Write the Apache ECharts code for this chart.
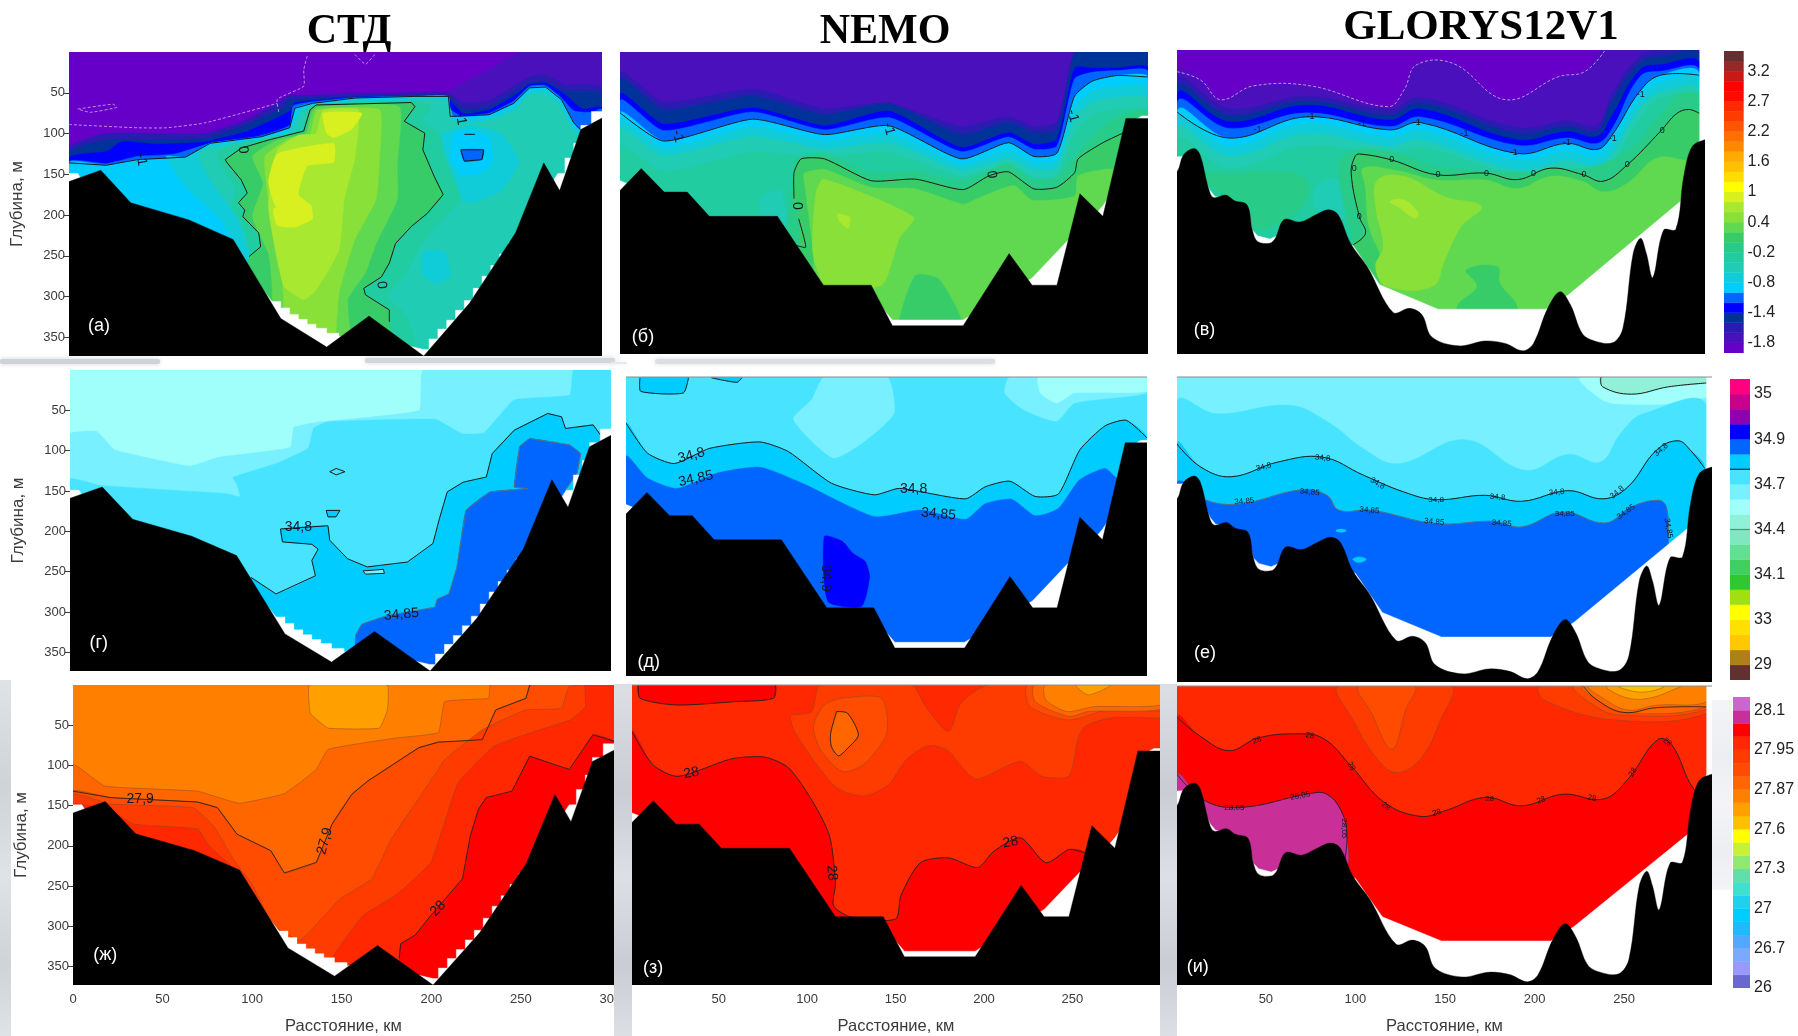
<!DOCTYPE html>
<html><head><meta charset="utf-8">
<style>html,body{margin:0;padding:0;background:#fff}#c{width:1798px;height:1036px}</style>
<script src="https://cdn.jsdelivr.net/npm/echarts@6/dist/echarts.min.js"></script>
</head><body><div id="c"></div>
<script>
/* ---------- colour scales (bottom to top of each colour bar) ---------- */
const tempColors=['#6600c8','#4a10bc','#2a1cb0','#003399','#0000ff','#0066ff','#00ccff','#10ccd8','#20ccb4','#20cca0','#28cc88','#38cc68','#60d850','#88e038','#a8e830','#d8f020','#ffff00','#ffdd00','#ffc000','#ffaa00','#ff8800','#ff7000','#ff5500','#ff3c00','#ff2a00','#ff0a00','#ff0000','#c81818','#962828','#63302f'];
const salColors=['#633030','#b08018','#ffc800','#ffe000','#ffff00','#a0e010','#30c830','#40d060','#60e090','#80e8c0','#90f0d8','#a0fffa','#78f0ff','#48e4ff','#00ccff','#0066ff','#0000ff','#9000b0','#c8008c','#ff0080'];
const rhoColors=['#6868d0','#9898ff','#7da8ff','#50a8ff','#20b8ff','#00ccff','#20d0f0','#40e0d0','#60e0a8','#90e870','#c8f038','#ffff00','#ffc000','#ffa000','#ff8000','#ff6600','#ff4c00','#ff3c00','#ff2800','#ff0000','#c83098','#cc66cc'];
const tempBarLabels=['-1.8','-1.4','-0.8','-0.2','0.4','1','1.6','2.2','2.7','3.2'];
const tempBarAt=[1,4,7,10,13,16,19,22,25,28];
const salBarLabels=['29','33','34.1','34.4','34.7','34.9','35'];
const salBarAt=[1,4,7,10,13,16,19];
const rhoBarLabels=['26','26.7','27','27.3','27.6','27.87','27.95','28.1'];
const rhoBarAt=[0,3,6,9,12,15,18,21];
const depthTicks=[50,100,150,200,250,300,350];
const distTicks=[0,50,100,150,200,250,300];
const columnTitles=['СТД','NEMO','GLORYS12V1'];

/* ---------- sea floor and lower limit of the data (km, m) ---------- */
const terrainCTD=[[0,159],[18,145],[35,185],[68,206],[93,230],[120,327],[146,362],[170,324],[201,373],[227,308],[253,222],[269,136],[278,170],[290,95],[302,81]];
const floorCTD=[[0,149],[5,149],[8,160],[30,190],[90,235],[115,306],[120,306],[120,314],[125,314],[125,322],[130,322],[130,328],[135,328],[135,334],[140,334],[140,339],[146,339],[146,345],[153,345],[153,349],[170,349],[201,365],[204,365],[204,352],[209,352],[209,340],[214,340],[214,329],[219,329],[219,317],[224,317],[224,305],[229,305],[229,290],[234,290],[234,275],[239,275],[239,262],[244,262],[244,248],[249,248],[249,234],[254,234],[254,222],[262,200],[277,149],[281,149],[281,130],[286,130],[286,112],[290,112],[290,90],[296,90],[296,73],[302,73]];
const terrainNEMO=[[1,171],[13,144],[26,173],[39,173],[51.5,203],[90,203],[116,288],[143,288],[155,338],[195,338],[221,249],[234,288],[248,288],[261,175],[274,203],[287,82],[299.5,82]];
const floorNEMO=[[1,159],[8,165],[30,200],[90,230],[116,292],[143,300],[155,331],[195,331],[234,279],[254,233],[262,220],[274,190],[280,170],[287,90],[296,79],[299.5,79]];
const terrainGLORYS=[[0.4,149],[4,129],[10,121],[13.5,129],[18,168],[21,181],[28,178],[33,185],[40,190],[43,221],[46,235],[53,237],[56,231],[61,208],[70,211],[79,202],[86,196],[91.5,202],[98.5,237],[108,266],[122.6,322],[132,317],[139,325],[144.5,352],[159.5,363],[174.5,357],[186,360],[196,369],[202,360],[210,317],[217,296.5],[223,313],[229.6,348],[236.5,357],[247,359],[252.6,341],[258.4,249.5],[262.6,231],[265.8,249.5],[269.5,279],[275.6,221],[282.5,220],[287,155],[291.7,118.6],[299,110]];
const floorGLORYS=[[0.4,131],[10,130],[19,172],[22,180],[30,182],[40,195],[43,221],[46,228],[53,232],[57,228],[70,220],[100,240],[115,288],[148,318],[209,318],[222,300],[286,184],[289,150],[296,110],[296,0],[299,0]];

/* ---------- builders for the filled regions ---------- */
const BOTTOM=400;
const zip=(xs,ds)=>xs.map((x,i)=>[x,ds[i]]);
const whole=c=>({c,pts:[[-5,-5],[310,-5],[310,BOTTOM],[-5,BOTTOM]],flat:true});
const below=(c,pts)=>({c,pts:[...pts,[pts[pts.length-1][0],BOTTOM],[pts[0][0],BOTTOM]]});
const patch=(c,pts)=>({c,pts});

/* ---------- (а) temperature, CTD ---------- */
const a_m1=[[0,136],[21,139],[39,132],[66,129],[80,112],[109,104],[125,93],[128,69],[138,63],[162,56.5],[196,54.5],[215,54.5],[216,79],[238,77],[252,63],[261,44],[270,43],[279,58.5],[286,87],[291,98],[302,95]];
const a_zero=[[102,251],[108.6,239],[107.5,222],[98.5,202],[99.6,194],[96,185],[101,173],[97.6,157],[89.6,136],[88.5,132],[97.6,118],[113,108],[133,97],[136.6,71],[140,65],[194,62],[196,67],[190,85],[201.6,99.5],[200.5,120],[207,153],[212,175],[203,198],[194,214],[185,235],[181.5,259],[177,276],[167,290],[168,298],[181.5,316.5],[181.5,331]];
const a_fill=[
 whole(0),
 below(1,[[215,52],[240,20],[255,0],[302,0]]),
 below(2,[[0,118],[21,100],[50,100],[77,100],[100,84],[120,60],[124,54],[214,50],[223,62],[238,60],[261,30],[270,28],[281,40],[302,44]]),
 below(3,[[0,124],[21,108],[50,108],[77,106],[100,90],[122,67],[124,59],[162,55],[214,53],[223,70],[238,68],[261,38],[270,36],[281,48],[302,52]]),
 below(4,[[0,130],[21,122],[30,110],[50,113],[77,110],[100,98],[125,73],[128,62],[162,55.5],[214,54],[217,62],[224,76],[238,71],[252,54],[261,40],[270,38],[281,52],[291,70],[302,68]]),
 below(5,[[0,135],[21,137],[39,128],[60,125],[80,112],[108,103],[125,90],[127,66],[138,61],[162,56],[215,54.5],[216,70],[222,78],[238,75],[252,60],[261,42],[270,41],[279,56],[286,72],[296,74],[302,70]]),
 below(6,a_m1),
 patch(7,[[55,128],[66,129],[80,114],[109,106],[125,95],[130,71],[138,65],[162,58.5],[196,56.5],[214,56.5],[216,82],[238,80],[252,66],[261,47],[270,46],[279,61],[286,90],[291,100],[302,98],[302,400],[110,400],[95,240],[86,206],[66,165]]),
 patch(8,[[73,125],[80,118],[109,108],[125,99],[132,74],[140,69],[162,62],[214,60],[219,86],[238,84],[253,71],[261,52],[270,51],[278,66],[285,95],[291,103],[302,102],[302,400],[115,400],[103,250],[95,202],[80,157]]),
 patch(7,[[201,245],[213,245],[216,275],[208,285],[200,272]]),
 patch(7,[[212,100],[228,90],[245,100],[255,135],[245,170],[228,185],[212,170],[205,135]]),
 patch(6,[[218,100],[228,95],[238,105],[240,135],[232,150],[222,150],[216,130]]),
 patch(5,[[222,120],[235,120],[234,132],[224,134]]),
 patch(9,[[84,125],[92,115],[110,106],[133,95],[134,70],[140,64],[196,60],[205,66],[200,85],[210,100],[212,120],[218,155],[222,180],[212,205],[203,225],[196,250],[190,275],[180,300],[190,320],[195,345],[195,400],[110,400],[103,250],[98,210],[92,190],[95,170],[88,145]]),
 patch(11,[...a_zero,[181.5,400],[102,400]]),
 patch(12,[[104,128],[118,108],[134,100],[138,72],[142,67],[187,67],[186,140],[186,181],[174,235],[168,271],[158,304],[160,400],[118,400],[115,284],[113,247],[104,202],[110,161]]),
 patch(13,[[111,128],[125,106],[136,102],[140,72],[144,70],[176,71],[176,130],[174,181],[162,230],[153,296],[148,400],[125,400],[121,284],[118,247],[113,181]]),
 patch(14,[[118,120],[130,102],[140,100],[144,71],[164,71],[162,130],[156,181],[153,243],[140,292],[133,304],[122,288],[118,255],[113,190]]),
 patch(15,[[144,75],[166,75],[160,95],[150,105],[146,100]]),
 patch(15,[[118,125],[150,112],[150,135],[135,140],[130,175],[138,190],[118,192],[113,160]]),
 patch(15,[[116,192],[137,190],[138,205],[128,215],[118,213]])
];
const a_lines=[a_m1,a_zero,[[222,120],[235,120],[234,132],[224,134],[222,120]],[[224,101],[230,101]]];
const a_faint=[[[135,5],[133,22],[133,42],[118,58],[119,75]],[[0,89],[39,93],[55,93],[77,87],[118,63]],[[162,3],[168,15],[174,1]],[[5,70],[25,64],[27,68],[12,74],[5,70]]];
const a_text=[[98.6,120,'0',85],[177,286,'0',85],[41,132,'-1',80],[222,82,'-1',80]];

/* ---------- (б) temperature, NEMO ---------- */
const b_x=[1,25.6,76,116.6,153,194,220.6,235,248,258,268,282,299.5];
const b_m1=zip(b_x,[75,110,83,102,91,132,112,129,125,54.5,36,29,31]);
const b_zero=[[101,239],[106,241],[102,206]];
const b_zero2=[[99.4,181],[99.4,149],[103.4,132],[116.6,132],[143,159],[168,157],[195,170],[209.5,153],[220.6,148],[235,169],[248,167],[258,149],[260,132],[274,112],[286,99.5]];
const b_fill=[
 whole(1),
 below(2,zip(b_x,[26,62,46,70,63,92,80,92,86,0,0,0,0])),
 below(3,zip(b_x,[34,71,54.5,77,64,101.6,87,99.5,95.4,0,0,0,0])),
 below(4,zip(b_x,[52,89,69,91,73,118,99.5,114,107.7,19.7,19.7,19.7,19.7])),
 below(5,zip(b_x,[60,97,74,96,81,123,105,120,116,33,25,23,24])),
 below(6,b_m1),
 below(7,zip(b_x,[84,118,92,110,100,138,122,136,133,68,48,42,44])),
 below(8,zip(b_x,[96,128,104,120,112,146,132,146,143,82,62,56,58])),
 below(9,zip(b_x,[118,148,124,130,124,154,140,156,152,100,78,70,72])),
 patch(8,[[80,180],[92,170],[95,210],[90,230],[82,215]]),
 patch(10,[[100,135],[116,125],[143,150],[168,148],[195,160],[220,138],[235,158],[248,156],[258,130],[270,100],[285,78],[300,75],[300,400],[100,400]]),
 patch(11,[[103,240],[102,206],[99.4,181],[99.4,149],[103.4,132],[116.6,132],[143,159],[168,157],[195,170],[209.5,153],[220.6,148],[235,169],[248,167],[258,149],[260,132],[274,112],[286,99.5],[300,95],[300,400],[105,400]]),
 patch(12,[[105.5,165],[105,150],[116.6,145],[143,167],[168,169],[195,188],[203,181],[223.6,165],[234,183],[258,178],[260,153],[277,144.5],[285,150],[290,400],[112,400],[110.5,255]]),
 patch(13,[[116,157],[167,204],[159,230],[149,288],[117,288],[110,247],[111.5,177]]),
 patch(14,[[124,200],[131,204],[130,218],[125,209]]),
 patch(11,[[168,276],[181,280],[194,331],[194,400],[159,400],[159,331]])
];
const b_lines=[b_m1,b_zero,b_zero2];
const b_text=[[33.7,104,'-1',75],[153,95,'-1',75],[257,79,'-1',75],[211,151.5,'0',85],[100.8,190,'0',90]];

/* ---------- (в) temperature, GLORYS12V1 ---------- */
const c_x=[0.4,29.8,73.5,120.7,138,193,220.8,238,246,262,273.7,296];
const c_m1=zip(c_x,[76,108,82,98,89,127,114.5,122,106,51,31,31]);
const c_pale=[[0.4,26.6],[13.7,36.8],[25,61],[43.6,44],[75.9,44],[119.6,69.5],[128.8,49],[135.7,18.4],[156.4,16.4],[186.3,61],[216.2,32.7],[231,26.6],[242.6,0]];
const c_zero=[[100,239],[107,225],[103.5,204.5],[98.9,151],[101,131],[103.5,127.6],[121.9,135],[147,153],[174.8,151],[193,159],[211.6,145],[230,153],[241.5,161],[255,141],[273.7,100],[283,78],[289.8,73],[296,78]];
const c_fill=[
 whole(0),
 below(1,[...c_pale,[300,0]]),
 below(2,zip(c_x,[38,72,57,73,58,95,87,92,55,8,0,0])),
 below(3,zip(c_x,[47,80,63,80,65,102,94,100,65,16,8,8])),
 below(4,zip(c_x,[55,88,67.5,86,72,110,100,106,82,24.5,18,18])),
 below(5,zip(c_x,[65,96,77,94,82,117,108,114.5,98,33,26,27])),
 below(6,c_m1),
 below(7,zip(c_x,[85,118,90,107,98,135,124,131,115,60,40,40])),
 below(8,zip(c_x,[97,130,103,118,110,147,136,143,128,72,52,52])),
 below(9,zip(c_x,[112,145,118,128,120,152,145,150,140,85,60,60])),
 patch(10,[[10,150],[30,152],[65,150],[75,165],[70,195],[55,215],[45,220],[38,195],[25,175]]),
 patch(8,[[80,165],[92,160],[95,205],[85,205],[78,190]]),
 patch(10,[[92,150],[98,125],[122,125],[147,143],[193,150],[230,145],[255,125],[270,90],[285,55],[296,58],[296,400],[100,400],[100,245]]),
 patch(11,[...c_zero,[296,400],[100,400]]),
 patch(12,[[105.8,145],[125,148],[147,159.5],[174.8,159.5],[193,170],[211.6,155],[230,161.5],[241.5,174],[255,163.6],[271.4,133],[287,135],[296,140],[296,400],[118,400],[115,286],[116,258],[109,217],[106.9,167.7]]),
 patch(13,[[113.8,159.5],[128.8,155],[151.8,180],[172.5,192],[161,217],[151.8,258],[145,290],[119,290],[112.7,266],[117,241],[112.7,192]]),
 patch(14,[[120.7,186],[128.8,184],[136.9,200],[134.6,206.5],[126.5,194]]),
 patch(11,[[164,270],[181.7,266],[182.9,286],[193,317],[193,400],[158.6,400],[158.6,317],[170,290]])
];
const c_lines=[c_m1,c_zero];
const c_faint=[c_pale];
const c_text=[[45.9,97,'-1',0],[75.9,82,'-1',0],[105,90,'-1',0],[136,89,'-1',0],[163,102,'-1',0],[190.8,126,'-1',0],[220.8,114,'-1',0],[246.8,108,'-1',0],[262.6,55,'-1',0],
 [100.7,146,'0',0],[103.5,204,'0',0],[121.9,134,'0',0],[148,152.6,'0',0],[175.5,151.4,'0',0],[202,151.4,'0',0],[230.6,153,'0',0],[255,141,'0',0],[274.8,99,'0',0]];

/* ---------- (г) salinity, CTD ---------- */
const d_c1=[[101,257],[115,277.5],[137,255],[135,236],[138.5,222],[135,216],[118.6,213],[117.5,197],[144,193],[145,211],[155,234],[166,244],[188.3,238],[202.6,215],[206,186],[210.6,151],[219.5,139],[232.4,132.6],[235.7,103.6],[248,74.6],[266.7,53.9],[274.4,58],[276.6,72.5],[292,68],[297.6,85]];
const d_c2=[[159.5,329],[163,315],[177,304.5],[203.7,294],[205,284],[211.5,277.5],[216,244],[221,174],[234.6,151],[255.6,147],[248,145],[251,95],[256.7,85],[279,93],[285,103.6],[283,128],[276.6,149]];
const d_i1=[[145,126],[148.6,122],[153.5,126],[148.6,130],[145,126]];
const d_i2=[[143,174],[150.7,174],[148.5,182],[144,182],[143,174]];
const d_i3=[[163.5,249],[175,247],[175.5,252],[165,253],[163.5,249]];
const d_fill=[
 whole(11),
 below(12,[[0,79],[15,76],[25,99],[67,119],[83,108],[123,96],[125,71],[137,65],[195,50],[197,0],[302,0]]),
 below(13,[[0,135],[17,143],[87,153],[95,157],[93,141],[91,133],[115,116],[133,97],[136,72],[144,64],[204,61],[219,79],[231,78],[248,37],[279,31],[281,0],[302,0]]),
 patch(14,[...d_c1,[302,85],[302,400],[101,400]]),
 patch(13,d_i1),patch(14,d_i2),patch(12,d_i3),
 patch(15,[...d_c2,[270,230],[230,400],[159.5,400]])
];
const d_lines=[d_c1,d_i1,d_i2,d_i3];
const d_grey=[d_c2];
const d_text=[[127.5,194.7,'34,8',0],[185,303,'34,85',-5]];

/* ---------- (д) salinity, NEMO ---------- */
const e_c1=[[1,57.5],[13.3,95],[28.6,108],[49,89],[77.7,81],[94,93],[118.7,132.5],[143.3,147],[157.6,139],[195.5,152],[206.8,137],[221,130],[235.4,149],[248.7,146],[261,91],[275.4,61],[287.6,54],[299.5,76]];
const e_c2=[[1,99],[13.3,126],[30,139],[53,120],[77.7,112.5],[102,132.5],[143.3,174],[170,166],[195.5,177.5],[206.8,158],[222,152.5],[235.4,173],[248.7,164],[261,128],[275.4,114],[283.5,128],[299.5,128]];
const e_top1=[[9,1],[9.5,18],[33.8,20],[36.8,1]];
const e_top2=[[50,1],[64.5,6.7],[67.5,1]];
const e_fill=[
 whole(13),
 patch(12,[[114.6,0],[150.5,0],[154.6,45],[139,78],[119.8,101],[97,53],[107.5,28]]),
 patch(12,[[221,0],[218,20],[229,41],[247.7,55],[258,32.5],[299.5,20],[299.5,0]]),
 patch(11,[[237.5,0],[238.5,20],[247.7,32.5],[258,20],[299.5,18],[299.5,0]]),
 patch(14,[[9,0],...e_top1,[36.8,0]]),
 patch(14,[[50,0],...e_top2,[67.5,0]]),
 below(14,e_c1),
 below(15,e_c2),
 patch(16,[[114.6,199],[125,205],[131,220],[138,230],[140.6,249],[136,286],[116.7,280]])
];
const e_lines=[e_c1,e_top1,e_top2];
const e_text=[[38.5,98,'34,8',-15],[41,127,'34,85',-12],[165.8,140,'34,8',0],[180,171,'34,85',5],[115.7,251,'34,9',90]];

/* ---------- (е) salinity, GLORYS12V1 ---------- */
const f_c1=[[0.4,82],[13.6,110],[30.6,122],[56.7,104],[81.7,98],[104.4,120],[127,140.6],[145,150],[172.5,144.7],[192.8,152],[218.6,139],[238.4,149],[252,134.5],[267.9,89.7],[280,78],[287,89.7],[295,112]];
const f_c2=[[0.4,130],[10,135],[17,151],[36,155],[70.3,137.8],[84,144.7],[90.8,163],[109,163],[145,179.4],[177,176.5],[192.8,183.4],[215.7,165],[239.5,178.6],[254,159],[269,150.8],[273.5,159],[274.6,195.7]];
const f_c3=[[237,0],[238,12],[254,21],[274.7,12],[296,7.3]];
const f_fill=[
 whole(12),
 patch(11,[[225.9,0],[231.6,18],[245,32.6],[296,24.5],[296,0]]),
 patch(10,[...f_c3,[296,0]]),
 below(13,[[0.4,30.6],[22.6,45],[63.3,34.6],[86,57],[104.4,87.6],[124,106],[161,76.6],[194.8,114],[218.6,94.6],[236.7,104],[248,69],[260.6,45],[296,36.7]]),
 below(14,f_c1),
 patch(15,[...f_c2,[274.6,400],[0.4,400]]),
 patch(14,[[89,188],[92,186],[95,188],[92,190]]),
 patch(14,[[98.5,223],[102,220],[106,223],[102,227]])
];
const f_lines=[f_c1,f_c3];
const f_grey=[f_c2];
const f_text=[[48.8,110,'34,8',-15],[81.7,99,'34,8',5],[112.3,130,'34,8',30],[145,150,'34,8',0],[179.3,147,'34,8',5],[212.3,141,'34,8',-5],[246,141,'34,8',-40],[270.6,89,'34,8',-40],
 [38,152,'34,85',-5],[74.4,141,'34,85',5],[107.8,163,'34,85',5],[144,177,'34,85',5],[181.6,179,'34,85',5],[216.8,167,'34,85',0],[251,165,'34,85',-35],[274.7,185,'34,85',80]];

/* ---------- (ж) density, CTD ---------- */
const g_c1=[[0,132],[21,140],[69.5,145.5],[80.6,152.5],[91.6,185.5],[110.4,206],[118,233.7],[135.8,220.5],[144.6,173],[155.6,136],[164.5,119.5],[193,78],[204,71],[228.5,68],[236,31],[252.8,16.5],[255,0]];
const g_c2=[[182,340],[183,321.5],[191,311],[199.8,286.5],[217.4,241],[221.8,187.6],[226.3,154.6],[230.7,140],[245,132],[255,88.6],[277,105],[290.3,61.8],[302,70]];
const g_fill=[
 whole(14),
 patch(13,[[132,0],[132.5,35],[142.4,53.6],[171,53.6],[175.5,31],[175.5,0]]),
 below(15,[[0,99],[17.7,125.7],[69.5,132],[92.7,147],[118,135],[135.8,105],[142.4,80],[180,66],[204,59],[207.5,20.6],[232,16.5],[233,0],[302,0]]),
 below(16,[...g_c1,[302,0]]),
 below(17,[[0,136],[21,148],[67.3,152.5],[78.4,175],[89.4,216],[100.4,249.4],[111.5,299],[127,317],[149,266],[166.7,241],[177.7,191.7],[204,105],[207.5,92.7],[228.5,55.6],[252.8,31],[272.6,28.9],[277,2],[302,0]]),
 patch(18,[[0,148],[20,155],[34,173],[69.5,179],[76,200],[92,235],[60,260],[0,200]]),
 patch(18,[[144.6,340],[162,286.5],[180,261.7],[199.8,220.5],[215,121.6],[235,76],[255,59.8],[278,43],[286,26.8],[286,0],[302,0],[302,400],[144.6,400]]),
 patch(19,[...g_c2,[302,400],[182,400]])
];
const g_lines=[g_c1,g_c2];
const g_text=[[37.5,142,'27,9',0],[140.6,194,'27,9',-75],[203.8,278,'28',-45]];

/* ---------- (з) density, NEMO ---------- */
const h_c1=[[1,58],[12.7,99],[26.9,113.6],[57,92],[76,89.7],[89.5,103],[103.6,146.7],[112.7,188],[116,245.9],[115,274.8],[125.4,289],[150,291],[153,262],[164,221],[180,215],[196.5,227],[205.6,206.6],[220.7,190],[235,221],[248,204.5],[257,208.7]];
const h_t=[[4.6,0],[5.6,16.5],[25.9,24.8],[59,20.7],[81,16.5],[82,0]];
const h_core=[[116.7,33],[122.8,35],[129,62],[123,78.5],[117.7,88],[113.7,76.5],[113.3,60],[116.7,33]];
const h_fill=[
 whole(18),
 patch(19,h_t),
 patch(17,[[107.6,0],[102.6,33],[90.9,39],[93.5,60],[115.7,126],[131.9,138],[146,124],[156,93],[168,75.6],[179,80.6],[190.5,109.5],[196.5,117],[220.7,95],[232.8,113.6],[248,112.8],[253,68],[257,51.6],[271.5,41],[297.5,41],[302,41],[302,0],[202.6,0],[187,22.7],[180,57.9],[167,26.9],[159,0]]),
 patch(16,[[103.6,51.6],[109.7,24.8],[119.8,16.5],[142,16.5],[145,60],[131.9,99],[119.8,107.4],[107.6,80.6]]),
 patch(15,h_core),
 patch(16,[[224.8,0],[226,26.9],[248,43.4],[273,29],[302,31],[302,0]]),
 patch(15,[[228.8,0],[229,20.7],[248,39],[259,33],[302,29],[302,0]]),
 patch(14,[[234.8,0],[235,18.6],[247,33],[262,27],[302,24],[302,0]]),
 patch(13,[[252,0],[259,12.4],[271.5,0]]),
 below(19,h_c1)
];
const h_lines=[h_c1,h_t,h_core];
const h_text=[[34.5,109.5,'28',-10],[114,233.5,'28',85],[215,195.5,'28',-10]];

/* ---------- (и) density, GLORYS12V1 ---------- */
const i_c1=[[0.4,39],[13.6,63],[29.5,80.7],[45.4,65],[66,59.7],[81.7,65],[97.6,100],[116,145],[136,162.6],[150,155.6],[172.5,139],[192.8,149.5],[215.7,135],[238.4,141],[252,116.5],[268.6,67],[276.5,73],[289,129],[296,129]];
const i_c2=[[0.4,110],[15.8,143],[36.3,151.5],[74.9,134],[84,135],[92,155.6],[95.3,186.5],[93,230]];
const i_fill=[
 whole(18),
 patch(17,[[90.8,0],[98.7,42.4],[111,87.7],[122.6,108],[136,91.8],[147.5,42.4],[153,0]]),
 patch(16,[[102,0],[109,34],[120.3,78.6],[128,30],[132.8,0]]),
 patch(17,[[203,0],[205.4,17.7],[245,42.4],[296,34],[296,0]]),
 patch(16,[[222.5,0],[231.6,21.8],[247,36],[296,29],[296,0]]),
 patch(15,[[227,0],[235,17.7],[249.7,33],[296,26],[296,0]]),
 patch(14,[[230.5,0],[238.4,15.6],[252,30],[268,24],[296,20],[296,0]]),
 patch(13,[[240.6,0],[249.7,13.6],[263,15.6],[281.5,1],[281.5,0]]),
 patch(12,[[247,0],[256,7],[266,6],[272,0]]),
 below(19,i_c1),
 patch(20,[...i_c2,[50,250],[0.4,180]])
];
const i_lines=[i_c1,i_c2,[[227,0],[235,17.7],[249.7,33],[268,27],[296,26]]];
const i_text=[[45,68,'28',-20],[74.6,62,'28',10],[97.6,100,'28',60],[116.9,150,'28',45],[145.3,158,'28',-15],[174.8,141,'28',0],[203.6,142.5,'28',-20],[232,140,'28',10],[254.8,107.5,'28',-60],[274,70,'28',40],
 [32.4,151.5,'28,05',0],[69.2,137,'28,05',-10],[94,177.5,'28,05',90]];

/* ---------- layout ---------- */
const panels=[
 {letter:'(а)',letterAt:[17,336],rect:[69,52,533,304],xr:[0,302],pal:tempColors,fill:a_fill,lines:a_lines,faint:a_faint,text:a_text,terrain:terrainCTD,floor:floorCTD,left:true,smooth:0.15},
 {letter:'(б)',letterAt:[14,352],rect:[620,52,528,302],xr:[1,299.5],pal:tempColors,fill:b_fill,lines:b_lines,text:b_text,terrain:terrainNEMO,floor:floorNEMO,smooth:0.2},
 {letter:'(в)',letterAt:[16,343],rect:[1177,50,528,304],xr:[0.4,299],pal:tempColors,fill:c_fill,lines:c_lines,faint:c_faint,text:c_text,small:9,terrain:terrainGLORYS,floor:floorGLORYS,smooth:0.4,round:true},
 {letter:'(г)',letterAt:[16,338],rect:[70,370,541,301],xr:[0,302],pal:salColors,fill:d_fill,lines:d_lines,grey:d_grey,text:d_text,terrain:terrainCTD,floor:floorCTD,left:true,smooth:0.1},
 {letter:'(д)',letterAt:[14,355],rect:[626,377,521,299],xr:[1,299.5],pal:salColors,fill:e_fill,lines:e_lines,text:e_text,terrain:terrainNEMO,floor:floorNEMO,topRule:true,smooth:0.2},
 {letter:'(е)',letterAt:[16,338],rect:[1177,377,535,305],xr:[0.4,299],pal:salColors,fill:f_fill,lines:f_lines,grey:f_grey,text:f_text,small:8,terrain:terrainGLORYS,floor:floorGLORYS,topRule:true,smooth:0.4,round:true},
 {letter:'(ж)',letterAt:[18,336],rect:[73,685,541,302],xr:[0,302],pal:rhoColors,fill:g_fill,lines:g_lines,text:g_text,edge:true,terrain:terrainCTD,floor:floorCTD,left:true,bottom:true,smooth:0.1},
 {letter:'(з)',letterAt:[13,352],rect:[632,685,528,301],xr:[1,299.5],pal:rhoColors,fill:h_fill,lines:h_lines,text:h_text,edge:true,terrain:terrainNEMO,floor:floorNEMO,bottom:true,topRule:true,smooth:0.25},
 {letter:'(и)',letterAt:[12,350],rect:[1177,686,535,302],xr:[0.4,299],pal:rhoColors,fill:i_fill,lines:i_lines,text:i_text,small:8,edge:true,terrain:terrainGLORYS,floor:floorGLORYS,bottom:true,topRule:true,smooth:0.4,round:true}
];
const bars=[
 {rect:[1724,51,19.5,302],colors:tempColors,at:tempBarAt,labels:tempBarLabels},
 {rect:[1730,379,20,301],colors:salColors,at:salBarAt,labels:salBarLabels,marks:[[14,'#222'],[10,'#5a8a78']]},
 {rect:[1733,697,17,291],colors:rhoColors,at:rhoBarAt,labels:rhoBarLabels}
];
const titleAt=[[349,11],[885,11],[1481,6]];

/* decorative traces of the photo behind the figure */
const iceGrad=(a,b)=>({type:'linear',x:0,y:0,x2:0,y2:1,colorStops:[{offset:0,color:a},{offset:.3,color:b},{offset:.55,color:a},{offset:.8,color:b},{offset:1,color:a}]});
const ice=[
 {shape:{x:0,y:680,width:11,height:356},fill:iceGrad('#dfe2e6','#cfd3d8')},
 {shape:{x:614,y:684,width:18,height:352},fill:iceGrad('#dcdfe4','#c9cdd3')},
 {shape:{x:1160,y:684,width:17,height:352},fill:iceGrad('#dcdfe4','#c9cdd3')},
 {shape:{x:1712,y:700,width:20,height:190},fill:iceGrad('#f4f4f7','#eceef2')}
];
const streaks=[[0,359,160,5,'#cfd2d6'],[365,358,250,5,'#d2d5d9'],[655,359,340,5,'#dcdee2'],[611,362,16,2,'#e8e9ec']];

/* ---------- option ---------- */
const grid=[],xAxis=[],yAxis=[],series=[];
const DEPTH_MAX=373;
const AXIS_TEXT='#3a3a3a';
function polySeries(i,shapes,z,edge,smooth){
 series.push({type:'custom',coordinateSystem:'cartesian2d',xAxisIndex:i,yAxisIndex:i,clip:true,z,silent:true,animation:false,
  data:shapes.map(s=>[s.pts[0][0],s.pts[0][1]]),
  renderItem:(p,api)=>{const s=shapes[p.dataIndex];
   return {type:'polygon',shape:{points:s.pts.map(q=>api.coord(q)),smooth:s.flat?0:(smooth||0)},
    style:{fill:s.color,stroke:edge?'rgba(120,70,50,.55)':s.color,lineWidth:edge?0.8:0.4}};}});
}
function lineSeries(i,pts,color,width,dash,z,smooth){
 series.push({type:'custom',coordinateSystem:'cartesian2d',xAxisIndex:i,yAxisIndex:i,clip:true,z,silent:true,animation:false,
  data:[[pts[0][0],pts[0][1]]],
  renderItem:(p,api)=>({type:'polyline',shape:{points:pts.map(q=>api.coord(q)),smooth:smooth||0},
    style:{fill:null,stroke:color,lineWidth:width,lineDash:dash||null}})});
}
function textSeries(i,items,z){
 series.push({type:'custom',coordinateSystem:'cartesian2d',xAxisIndex:i,yAxisIndex:i,clip:false,z,silent:true,animation:false,
  data:items.map(t=>[t.x,t.d]),
  renderItem:(p,api)=>{const t=items[p.dataIndex],c=api.coord([t.x,t.d]);
   return {type:'text',x:c[0],y:c[1],rotation:-(t.rot||0)*Math.PI/180,
    style:{text:t.s,fill:t.color,font:t.font,align:'center',verticalAlign:'middle'}};}});
}
panels.forEach((p,i)=>{
 const [l,t,w,h]=p.rect;
 grid.push({left:l,top:t,width:w,height:h,containLabel:false});
 const shown=distTicks.filter(v=>v>=p.xr[0]&&v<=p.xr[1]);
 xAxis.push({type:'value',gridIndex:i,min:p.xr[0],max:p.xr[1],splitLine:{show:false},axisLine:{show:false},
  axisTick:{show:!!p.bottom,length:5,lineStyle:{color:AXIS_TEXT},customValues:shown},
  axisLabel:{show:!!p.bottom,customValues:shown,color:AXIS_TEXT,fontSize:13,fontFamily:'Liberation Sans',margin:8,hideOverlap:false,showMinLabel:true,showMaxLabel:true},
  name:p.bottom?'Расстояние, км':'',nameLocation:'middle',nameGap:33,nameTextStyle:{color:AXIS_TEXT,fontSize:16.5,fontFamily:'Liberation Sans'}});
 yAxis.push({type:'value',gridIndex:i,inverse:true,min:0,max:DEPTH_MAX,splitLine:{show:false},axisLine:{show:false},
  axisTick:{show:!!p.left,length:5,lineStyle:{color:AXIS_TEXT},customValues:depthTicks},
  axisLabel:{show:!!p.left,customValues:depthTicks,color:AXIS_TEXT,fontSize:13,fontFamily:'Liberation Sans',margin:4},
  name:p.left?'Глубина, м':'',nameLocation:'middle',nameGap:43,nameRotate:90,nameTextStyle:{color:AXIS_TEXT,fontSize:17,fontFamily:'Liberation Sans'}});
 polySeries(i,p.fill.map(s=>({pts:s.pts,flat:s.flat,color:p.pal[s.c]})),2,p.edge,p.smooth);
 (p.faint||[]).forEach(f=>lineSeries(i,f,'rgba(225,190,235,.75)',1,[3,2],3,p.smooth));
 (p.grey||[]).forEach(f=>lineSeries(i,f,'#5b6f7f',1,null,3,p.round?p.smooth:0));
 p.lines.forEach(f=>lineSeries(i,f,'#1a1a1a',p.edge?0.8:1,null,3,p.round||i===1||i===4||i===7?p.smooth:0));
 polySeries(i,[{pts:[...p.floor,[p.floor[p.floor.length-1][0]+5,BOTTOM],[p.floor[0][0]-5,BOTTOM]],color:'#ffffff'}],4,false,0);
 const tl=p.terrain[p.terrain.length-1],t0=p.terrain[0];
 polySeries(i,[{pts:[[t0[0]-5,BOTTOM],[t0[0]-5,t0[1]],...p.terrain,[tl[0]+5,tl[1]],[tl[0]+5,BOTTOM]],color:'#000000'}],5,false,p.round?0.35:0);
 const fs=p.small||14;
 const items=p.text.map(q=>({x:q[0],d:q[1],s:q[2],rot:q[3],color:'#15152a',font:fs+'px "Liberation Sans"'}));
 items.push({x:p.letterAt[0],d:p.letterAt[1],s:p.letter,rot:0,color:'#ffffff',font:'18px "Liberation Sans"'});
 textSeries(i,items,6);
 if(p.topRule)series.push({type:'line',xAxisIndex:i,yAxisIndex:i,data:[[p.xr[0],0],[p.xr[1],0]],symbol:'none',silent:true,animation:false,z:7,clip:false,lineStyle:{color:'#8a8f92',width:1.2}});
});
bars.forEach((b,k)=>{
 const i=panels.length+k,[l,t,w,h]=b.rect;
 grid.push({left:l,top:t,width:w,height:h});
 xAxis.push({type:'value',gridIndex:i,min:0,max:1,show:false});
 yAxis.push({type:'value',gridIndex:i,position:'right',min:0,max:b.colors.length,splitLine:{show:false},axisLine:{show:false},axisTick:{show:false},
  axisLabel:{customValues:b.at,formatter:(v)=>b.labels[b.at.indexOf(v)],color:'#222',fontSize:16,fontFamily:'Liberation Sans',margin:4}});
 polySeries(i,b.colors.map((color,n)=>({color,pts:[[0,n],[1,n],[1,n+1],[0,n+1]]})),2,false,0);
 (b.marks||[]).forEach(m=>lineSeries(i,[[0,m[0]],[1,m[0]]],m[1],1.2,null,3,0));
});
const graphic=[
 ...ice.map(r=>({type:'rect',silent:true,z:10,shape:r.shape,style:{fill:r.fill}})),
 ...streaks.map(s=>({type:'rect',silent:true,z:1,shape:{x:s[0],y:s[1],width:s[2],height:s[3],r:2},style:{fill:s[4],shadowBlur:5,shadowColor:s[4]}}))
];
const option={
 animation:false,backgroundColor:'#ffffff',
 title:columnTitles.map((text,k)=>({text,left:titleAt[k][0],top:titleAt[k][1],textAlign:'center',padding:0,
  textStyle:{fontFamily:'Liberation Serif',fontWeight:'bold',fontSize:k===2?43:42,color:'#000'}})),
 graphic,grid,xAxis,yAxis,series
};
echarts.init(document.getElementById('c'),null,{renderer:'canvas'}).setOption(option);
</script></body></html>
